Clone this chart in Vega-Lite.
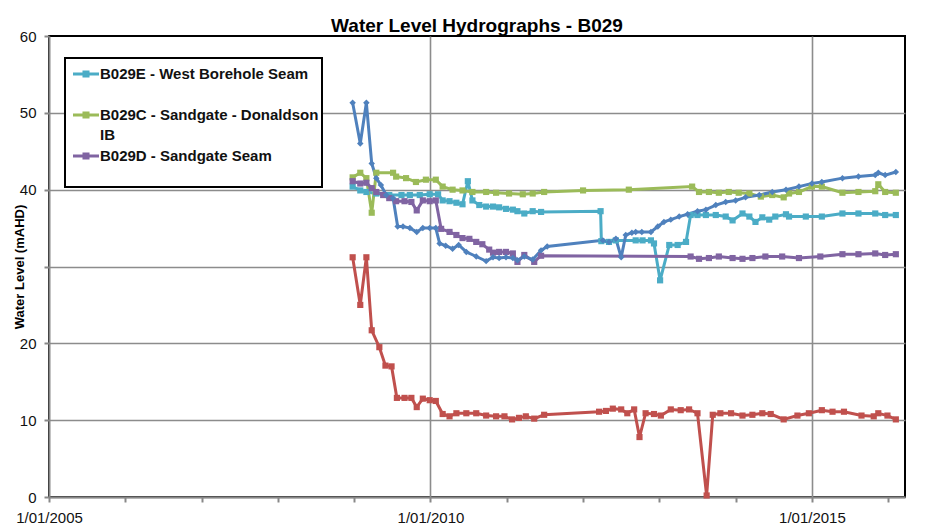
{
  "$schema": "https://vega.github.io/schema/vega-lite/v6.json",
  "autosize": "none",
  "width": 856,
  "height": 461,
  "padding": {"left": 49, "top": 36, "right": 34, "bottom": 31},
  "background": "#ffffff",
  "title": {"text": "Water Level Hydrographs - B029", "font": "Liberation Sans", "fontSize": 19, "fontWeight": "bold", "color": "#000", "anchor": "middle", "frame": "group", "baseline": "alphabetic", "offset": 4, "dy": 26},
  "config": {
    "view": {"stroke": "#000", "strokeWidth": 2},
    "axis": {"domainColor": "#888", "domainWidth": 2, "tickColor": "#888", "tickWidth": 2, "gridColor": "#8c8c8c", "gridWidth": 1.6, "labelFont": "Liberation Sans", "labelFontSize": 15, "labelColor": "#111"}
  },
  "data": {"values": [
    {"series":"B029E","year":2008.98,"level":40.4},{"series":"B029E","year":2009.08,"level":39.9},{"series":"B029E","year":2009.16,"level":39.7},{"series":"B029E","year":2009.29,"level":39.5},{"series":"B029E","year":2009.46,"level":39.3},{"series":"B029E","year":2009.62,"level":39.3},{"series":"B029E","year":2009.73,"level":39.3},{"series":"B029E","year":2009.86,"level":39.3},{"series":"B029E","year":2009.99,"level":39.4},{"series":"B029E","year":2010.10,"level":39.4},{"series":"B029E","year":2010.16,"level":38.6},{"series":"B029E","year":2010.25,"level":38.5},{"series":"B029E","year":2010.34,"level":38.3},{"series":"B029E","year":2010.42,"level":38.1},{"series":"B029E","year":2010.49,"level":41.1},{"series":"B029E","year":2010.55,"level":38.6},{"series":"B029E","year":2010.64,"level":38.0},{"series":"B029E","year":2010.73,"level":37.8},{"series":"B029E","year":2010.82,"level":37.8},{"series":"B029E","year":2010.90,"level":37.7},{"series":"B029E","year":2010.99,"level":37.5},{"series":"B029E","year":2011.08,"level":37.4},{"series":"B029E","year":2011.14,"level":37.2},{"series":"B029E","year":2011.23,"level":36.9},{"series":"B029E","year":2011.34,"level":37.2},{"series":"B029E","year":2011.45,"level":37.1},{"series":"B029E","year":2012.23,"level":37.2},{"series":"B029E","year":2012.24,"level":33.3},{"series":"B029E","year":2012.34,"level":33.2},{"series":"B029E","year":2012.43,"level":33.4},{"series":"B029E","year":2012.69,"level":33.4},{"series":"B029E","year":2012.78,"level":33.4},{"series":"B029E","year":2012.89,"level":33.4},{"series":"B029E","year":2012.93,"level":33.0},{"series":"B029E","year":2013.01,"level":28.2},{"series":"B029E","year":2013.13,"level":32.8},{"series":"B029E","year":2013.24,"level":32.8},{"series":"B029E","year":2013.35,"level":33.2},{"series":"B029E","year":2013.41,"level":36.7},{"series":"B029E","year":2013.50,"level":36.7},{"series":"B029E","year":2013.61,"level":36.7},{"series":"B029E","year":2013.74,"level":36.7},{"series":"B029E","year":2013.87,"level":36.5},{"series":"B029E","year":2013.96,"level":36.0},{"series":"B029E","year":2014.09,"level":36.9},{"series":"B029E","year":2014.18,"level":36.5},{"series":"B029E","year":2014.26,"level":35.8},{"series":"B029E","year":2014.35,"level":36.4},{"series":"B029E","year":2014.44,"level":36.1},{"series":"B029E","year":2014.52,"level":36.5},{"series":"B029E","year":2014.66,"level":36.8},{"series":"B029E","year":2014.70,"level":36.5},{"series":"B029E","year":2014.92,"level":36.5},{"series":"B029E","year":2015.13,"level":36.5},{"series":"B029E","year":2015.40,"level":36.9},{"series":"B029E","year":2015.61,"level":36.9},{"series":"B029E","year":2015.83,"level":36.9},{"series":"B029E","year":2015.96,"level":36.7},{"series":"B029E","year":2016.10,"level":36.7},
    {"series":"B029C","year":2008.98,"level":41.6},{"series":"B029C","year":2009.08,"level":42.2},{"series":"B029C","year":2009.16,"level":41.5},{"series":"B029C","year":2009.23,"level":37.0},{"series":"B029C","year":2009.29,"level":42.2},{"series":"B029C","year":2009.51,"level":42.2},{"series":"B029C","year":2009.55,"level":41.7},{"series":"B029C","year":2009.68,"level":41.5},{"series":"B029C","year":2009.81,"level":41.0},{"series":"B029C","year":2009.94,"level":41.3},{"series":"B029C","year":2010.07,"level":41.3},{"series":"B029C","year":2010.16,"level":40.4},{"series":"B029C","year":2010.29,"level":40.0},{"series":"B029C","year":2010.42,"level":39.9},{"series":"B029C","year":2010.55,"level":39.7},{"series":"B029C","year":2010.73,"level":39.7},{"series":"B029C","year":2010.86,"level":39.6},{"series":"B029C","year":2011.03,"level":39.5},{"series":"B029C","year":2011.21,"level":39.4},{"series":"B029C","year":2011.34,"level":39.5},{"series":"B029C","year":2011.49,"level":39.7},{"series":"B029C","year":2012.00,"level":39.9},{"series":"B029C","year":2012.60,"level":40.0},{"series":"B029C","year":2013.43,"level":40.4},{"series":"B029C","year":2013.52,"level":39.7},{"series":"B029C","year":2013.65,"level":39.7},{"series":"B029C","year":2013.78,"level":39.6},{"series":"B029C","year":2013.91,"level":39.7},{"series":"B029C","year":2014.04,"level":39.6},{"series":"B029C","year":2014.18,"level":39.5},{"series":"B029C","year":2014.33,"level":39.1},{"series":"B029C","year":2014.48,"level":39.3},{"series":"B029C","year":2014.63,"level":39.0},{"series":"B029C","year":2014.70,"level":39.5},{"series":"B029C","year":2014.83,"level":39.7},{"series":"B029C","year":2015.00,"level":40.4},{"series":"B029C","year":2015.13,"level":40.4},{"series":"B029C","year":2015.40,"level":39.6},{"series":"B029C","year":2015.61,"level":39.7},{"series":"B029C","year":2015.83,"level":39.8},{"series":"B029C","year":2015.87,"level":40.7},{"series":"B029C","year":2015.96,"level":39.7},{"series":"B029C","year":2016.10,"level":39.6},
    {"series":"B029D","year":2008.98,"level":41.1},{"series":"B029D","year":2009.08,"level":40.8},{"series":"B029D","year":2009.16,"level":40.9},{"series":"B029D","year":2009.23,"level":40.2},{"series":"B029D","year":2009.29,"level":39.7},{"series":"B029D","year":2009.38,"level":39.3},{"series":"B029D","year":2009.46,"level":38.9},{"series":"B029D","year":2009.55,"level":38.5},{"series":"B029D","year":2009.66,"level":38.5},{"series":"B029D","year":2009.75,"level":38.4},{"series":"B029D","year":2009.82,"level":37.3},{"series":"B029D","year":2009.90,"level":38.6},{"series":"B029D","year":2009.99,"level":38.5},{"series":"B029D","year":2010.07,"level":38.6},{"series":"B029D","year":2010.14,"level":34.9},{"series":"B029D","year":2010.25,"level":34.5},{"series":"B029D","year":2010.34,"level":34.1},{"series":"B029D","year":2010.42,"level":33.7},{"series":"B029D","year":2010.51,"level":33.6},{"series":"B029D","year":2010.60,"level":33.2},{"series":"B029D","year":2010.68,"level":32.9},{"series":"B029D","year":2010.77,"level":32.2},{"series":"B029D","year":2010.82,"level":31.8},{"series":"B029D","year":2010.90,"level":31.9},{"series":"B029D","year":2010.99,"level":31.9},{"series":"B029D","year":2011.08,"level":31.7},{"series":"B029D","year":2011.14,"level":30.6},{"series":"B029D","year":2011.23,"level":31.5},{"series":"B029D","year":2011.36,"level":30.6},{"series":"B029D","year":2011.45,"level":31.4},{"series":"B029D","year":2013.41,"level":31.3},{"series":"B029D","year":2013.52,"level":31.0},{"series":"B029D","year":2013.65,"level":31.1},{"series":"B029D","year":2013.78,"level":31.3},{"series":"B029D","year":2013.96,"level":31.1},{"series":"B029D","year":2014.09,"level":31.0},{"series":"B029D","year":2014.22,"level":31.1},{"series":"B029D","year":2014.39,"level":31.3},{"series":"B029D","year":2014.61,"level":31.3},{"series":"B029D","year":2014.83,"level":31.1},{"series":"B029D","year":2015.11,"level":31.3},{"series":"B029D","year":2015.40,"level":31.6},{"series":"B029D","year":2015.61,"level":31.6},{"series":"B029D","year":2015.83,"level":31.7},{"series":"B029D","year":2015.96,"level":31.5},{"series":"B029D","year":2016.10,"level":31.6},
    {"series":"B029B","year":2008.98,"level":31.2},{"series":"B029B","year":2009.08,"level":25.0},{"series":"B029B","year":2009.16,"level":31.2},{"series":"B029B","year":2009.23,"level":21.7},{"series":"B029B","year":2009.33,"level":19.5},{"series":"B029B","year":2009.41,"level":17.1},{"series":"B029B","year":2009.49,"level":17.0},{"series":"B029B","year":2009.56,"level":12.9},{"series":"B029B","year":2009.66,"level":12.9},{"series":"B029B","year":2009.75,"level":12.9},{"series":"B029B","year":2009.82,"level":11.7},{"series":"B029B","year":2009.90,"level":12.8},{"series":"B029B","year":2009.99,"level":12.6},{"series":"B029B","year":2010.07,"level":12.5},{"series":"B029B","year":2010.16,"level":10.8},{"series":"B029B","year":2010.25,"level":10.5},{"series":"B029B","year":2010.34,"level":10.9},{"series":"B029B","year":2010.47,"level":10.9},{"series":"B029B","year":2010.60,"level":10.9},{"series":"B029B","year":2010.73,"level":10.6},{"series":"B029B","year":2010.86,"level":10.5},{"series":"B029B","year":2010.97,"level":10.5},{"series":"B029B","year":2011.07,"level":10.1},{"series":"B029B","year":2011.16,"level":10.3},{"series":"B029B","year":2011.25,"level":10.5},{"series":"B029B","year":2011.36,"level":10.2},{"series":"B029B","year":2011.49,"level":10.7},{"series":"B029B","year":2012.21,"level":11.1},{"series":"B029B","year":2012.30,"level":11.2},{"series":"B029B","year":2012.39,"level":11.5},{"series":"B029B","year":2012.50,"level":11.4},{"series":"B029B","year":2012.58,"level":10.9},{"series":"B029B","year":2012.67,"level":11.4},{"series":"B029B","year":2012.74,"level":7.8},{"series":"B029B","year":2012.82,"level":10.9},{"series":"B029B","year":2012.93,"level":10.8},{"series":"B029B","year":2013.02,"level":10.6},{"series":"B029B","year":2013.15,"level":11.4},{"series":"B029B","year":2013.28,"level":11.3},{"series":"B029B","year":2013.39,"level":11.4},{"series":"B029B","year":2013.50,"level":10.9},{"series":"B029B","year":2013.62,"level":0.2},{"series":"B029B","year":2013.70,"level":10.7},{"series":"B029B","year":2013.80,"level":10.9},{"series":"B029B","year":2013.94,"level":10.9},{"series":"B029B","year":2014.09,"level":10.6},{"series":"B029B","year":2014.22,"level":10.7},{"series":"B029B","year":2014.35,"level":10.9},{"series":"B029B","year":2014.46,"level":10.8},{"series":"B029B","year":2014.63,"level":10.1},{"series":"B029B","year":2014.81,"level":10.6},{"series":"B029B","year":2014.96,"level":10.9},{"series":"B029B","year":2015.13,"level":11.3},{"series":"B029B","year":2015.27,"level":11.1},{"series":"B029B","year":2015.42,"level":11.1},{"series":"B029B","year":2015.65,"level":10.6},{"series":"B029B","year":2015.81,"level":10.5},{"series":"B029B","year":2015.87,"level":10.9},{"series":"B029B","year":2015.99,"level":10.6},{"series":"B029B","year":2016.10,"level":10.1},
    {"series":"B029A","year":2008.98,"level":51.3},{"series":"B029A","year":2009.08,"level":46.0},{"series":"B029A","year":2009.16,"level":51.3},{"series":"B029A","year":2009.23,"level":43.4},{"series":"B029A","year":2009.29,"level":41.5},{"series":"B029A","year":2009.35,"level":40.6},{"series":"B029A","year":2009.42,"level":39.3},{"series":"B029A","year":2009.51,"level":38.9},{"series":"B029A","year":2009.57,"level":35.2},{"series":"B029A","year":2009.64,"level":35.2},{"series":"B029A","year":2009.73,"level":35.0},{"series":"B029A","year":2009.82,"level":34.5},{"series":"B029A","year":2009.90,"level":35.0},{"series":"B029A","year":2009.99,"level":35.0},{"series":"B029A","year":2010.07,"level":35.0},{"series":"B029A","year":2010.12,"level":33.0},{"series":"B029A","year":2010.20,"level":32.7},{"series":"B029A","year":2010.29,"level":32.3},{"series":"B029A","year":2010.37,"level":32.8},{"series":"B029A","year":2010.47,"level":31.9},{"series":"B029A","year":2010.60,"level":31.3},{"series":"B029A","year":2010.73,"level":30.7},{"series":"B029A","year":2010.82,"level":31.2},{"series":"B029A","year":2010.90,"level":31.1},{"series":"B029A","year":2010.99,"level":31.2},{"series":"B029A","year":2011.08,"level":31.1},{"series":"B029A","year":2011.14,"level":30.8},{"series":"B029A","year":2011.23,"level":31.3},{"series":"B029A","year":2011.34,"level":30.9},{"series":"B029A","year":2011.45,"level":32.1},{"series":"B029A","year":2011.53,"level":32.6},{"series":"B029A","year":2012.26,"level":33.4},{"series":"B029A","year":2012.34,"level":33.2},{"series":"B029A","year":2012.43,"level":33.6},{"series":"B029A","year":2012.50,"level":31.2},{"series":"B029A","year":2012.56,"level":34.1},{"series":"B029A","year":2012.64,"level":34.4},{"series":"B029A","year":2012.69,"level":34.5},{"series":"B029A","year":2012.77,"level":34.5},{"series":"B029A","year":2012.89,"level":34.5},{"series":"B029A","year":2012.98,"level":35.2},{"series":"B029A","year":2013.06,"level":35.8},{"series":"B029A","year":2013.15,"level":36.1},{"series":"B029A","year":2013.26,"level":36.5},{"series":"B029A","year":2013.37,"level":36.8},{"series":"B029A","year":2013.50,"level":37.2},{"series":"B029A","year":2013.61,"level":37.4},{"series":"B029A","year":2013.74,"level":38.0},{"series":"B029A","year":2013.87,"level":38.4},{"series":"B029A","year":2014.00,"level":38.6},{"series":"B029A","year":2014.13,"level":39.0},{"series":"B029A","year":2014.31,"level":39.3},{"series":"B029A","year":2014.48,"level":39.7},{"series":"B029A","year":2014.66,"level":40.0},{"series":"B029A","year":2014.83,"level":40.4},{"series":"B029A","year":2015.00,"level":40.8},{"series":"B029A","year":2015.13,"level":41.0},{"series":"B029A","year":2015.40,"level":41.5},{"series":"B029A","year":2015.61,"level":41.7},{"series":"B029A","year":2015.83,"level":41.9},{"series":"B029A","year":2015.87,"level":42.2},{"series":"B029A","year":2015.96,"level":41.9},{"series":"B029A","year":2016.10,"level":42.3}
  ]},
  "encoding": {
    "x": {"field": "year", "type": "quantitative",
      "scale": {"domain": [2005, 2016.22], "nice": false, "zero": false},
      "axis": {"title": null, "values": [2005,2006,2007,2008,2009,2010,2011,2012,2013,2014,2015,2016],
        "labelExpr": "datum.value % 5 === 0 ? '1/01/' + datum.value : ''",
        "labelFlush": false, "labelBound": false, "labelOverlap": false,
        "tickSize": 5, "labelPadding": 8,
        "gridOpacity": {"condition": {"test": "datum.value % 5 === 0 && datum.value > 2005", "value": 1}, "value": 0}}},
    "y": {"field": "level", "type": "quantitative",
      "scale": {"domain": [0, 60], "nice": false},
      "axis": {"title": "Water Level (mAHD)", "values": [0,10,20,30,40,50,60],
        "labelExpr": "datum.value === 30 ? '' : datum.label",
        "tickSize": 5, "labelPadding": 8, "titlePadding": -7,
        "titleFont": "Liberation Sans", "titleFontSize": 13, "titleFontWeight": "bold", "titleColor": "#000",
        "gridOpacity": {"condition": {"test": "datum.value < 60", "value": 1}, "value": 0}}},
    "color": {"field": "series", "type": "nominal",
      "scale": {"domain": ["B029E","B029C","B029D","B029B","B029A"], "range": ["#4BACC6","#9BBB59","#8064A2","#C0504D","#4F81BD"]},
      "legend": {"values": ["B029E","B029C","B029D"], "title": null,
        "orient": "none", "legendX": 16, "legendY": 22, "padding": 3, "rowPadding": 0,
        "strokeColor": "#000", "fillColor": "#fff",
        "symbolType": "M-1,-0.12L1,-0.12L1,0.12L-1,0.12Z M-0.27,-0.27L0.27,-0.27L0.27,0.27L-0.27,0.27Z", "symbolSize": 676, "symbolStrokeWidth": 0, "symbolOffset": 5,
        "labelOffset": 1, "labelFont": "Liberation Sans", "labelFontSize": 15, "labelFontWeight": "bold", "labelColor": "#111", "labelLimit": 400,
        "labelExpr": "datum.value === 'B029E' ? ['B029E - West Borehole Seam', ''] : datum.value === 'B029C' ? ['B029C - Sandgate - Donaldson\u00a0\u00a0\u00a0', 'IB'] : ['B029D - Sandgate Seam', '']",
        "encode": {
          "legend": {"update": {"strokeWidth": {"value": 2}}},
          "symbols": {"update": {"shape": {"value": "M-1,-0.12L1,-0.12L1,0.12L-1,0.12Z M-0.27,-0.27L0.27,-0.27L0.27,0.27L-0.27,0.27Z"}, "fill": {"scale": "color", "field": "value"}, "fillOpacity": {"value": 1}, "opacity": {"value": 1}, "strokeWidth": {"value": 0}}},
          "labels": {"update": {"lineHeight": {"value": 20}}}
        }}}
  },
  "layer": [
    {"mark": {"type": "line", "strokeWidth": 3}},
    {"transform": [{"filter": "datum.series !== 'B029A'"}],
     "mark": {"type": "point", "shape": "square", "filled": true, "opacity": 1, "size": 38}},
    {"transform": [{"filter": "datum.series === 'B029A'"}],
     "mark": {"type": "point", "shape": "diamond", "filled": true, "opacity": 1, "size": 42}}
  ]
}
